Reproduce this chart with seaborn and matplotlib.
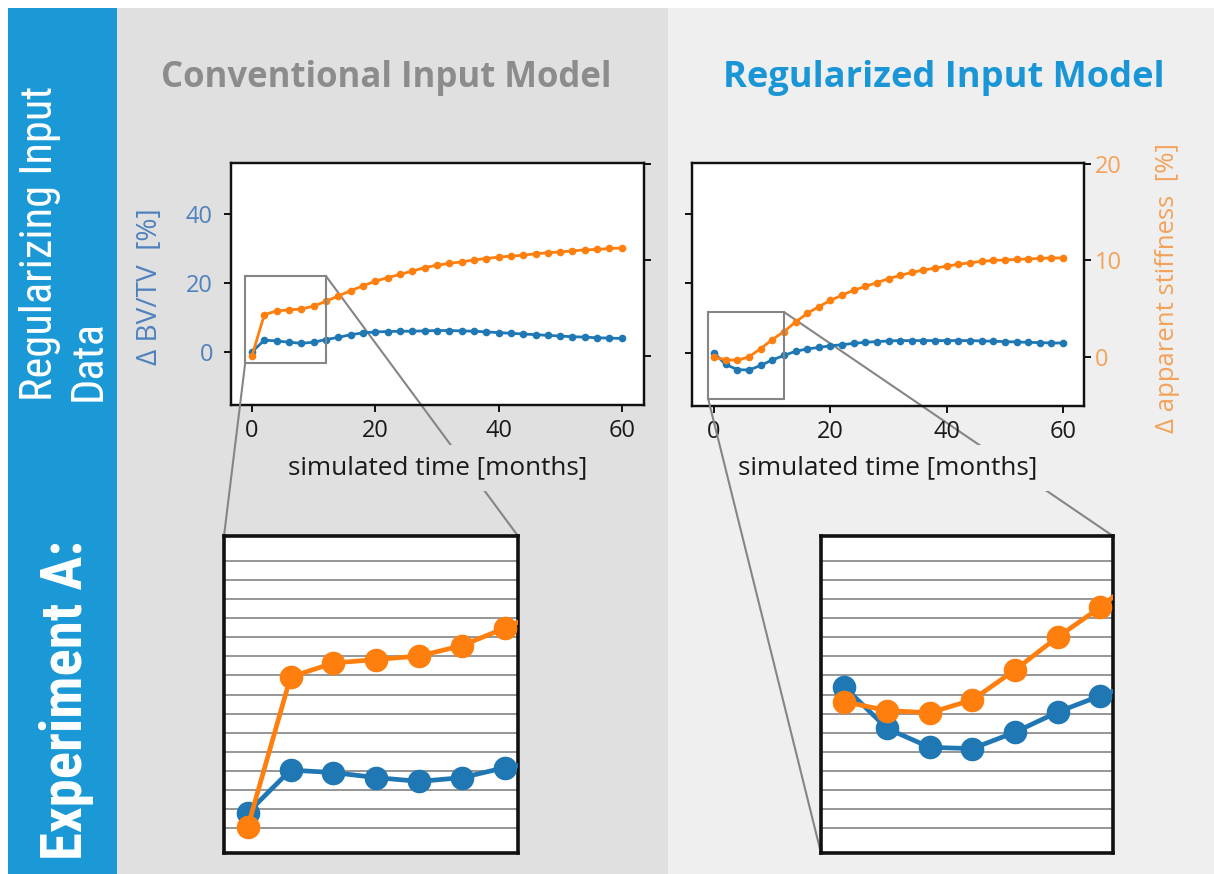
import matplotlib
matplotlib.use("Agg")
import matplotlib.pyplot as plt
import seaborn as sns
from matplotlib.patches import Rectangle, ConnectionPatch
from matplotlib import font_manager

# ---------------- data ----------------
months = list(range(0, 61, 2))
conv_bvtv = [0.0, 3.4, 3.2, 2.8, 2.5, 2.8, 3.6, 4.2, 5.0, 5.5, 5.8, 5.9, 6.0, 6.0, 6.1, 6.2,
             6.2, 6.1, 6.0, 5.8, 5.6, 5.4, 5.2, 5.0, 4.8, 4.6, 4.4, 4.3, 4.1, 4.0, 3.9]
conv_stiff = [0.0, 4.3, 4.7, 4.8, 4.9, 5.2, 5.7, 6.25, 6.8, 7.3, 7.8, 8.15, 8.5, 8.85, 9.2, 9.45,
              9.65, 9.8, 10.0, 10.15, 10.3, 10.4, 10.5, 10.65, 10.75, 10.85, 10.95, 11.05, 11.1, 11.2, 11.25]
reg_bvtv = [-0.1, -3.4, -4.9, -5.0, -3.7, -2.1, -0.8, 0.4, 1.1, 1.5, 2.0, 2.3, 2.7, 3.0, 3.2, 3.4,
            3.5, 3.5, 3.5, 3.5, 3.5, 3.5, 3.5, 3.4, 3.3, 3.2, 3.1, 3.0, 2.9, 2.8, 2.8]
reg_stiff = [-0.05, -0.3, -0.36, 0.0, 0.85, 1.78, 2.62, 3.6, 4.5, 5.2, 5.85, 6.4, 6.9, 7.3, 7.7, 8.1,
             8.45, 8.75, 9.0, 9.2, 9.4, 9.6, 9.75, 9.9, 10.0, 10.05, 10.1, 10.15, 10.2, 10.25, 10.25]
x_ticks = [0, 20, 40, 60]
left_ticks = [0, 20, 40]
right_ticks = [0, 10, 20]
titles = ["Conventional Input Model", "Regularized Input Model"]
row_label = "Regularizing Input\nData"
exp_label = "Experiment A:"
xlabel_text = "simulated time [months]"
ylabel_left = "Δ BV/TV  [%]"
ylabel_right = "Δ apparent stiffness  [%]"

# ---------------- style ----------------
sns.set_theme(style="ticks")
plt.rcParams["font.family"] = ["Open Sans", "DejaVu Sans"]

BLUE = "#1f77b4"
ORANGE = "#ff7f0e"
BAND = "#1b98d6"
PANEL_L = "#e0e0e0"
PANEL_R = "#efefef"
GREY = "#858585"
LBL_BLUE = "#4f81bd"
LBL_ORANGE = "#f4a25a"

W, H = 1214, 874
fig = plt.figure(figsize=(W / 100, H / 100), dpi=100)
renderer = fig.canvas.get_renderer()


def box(x0, y0, x1, y1):
    return [x0 / W, 1 - y1 / H, (x1 - x0) / W, (y1 - y0) / H]


def fit(t, target, along="w"):
    for _ in range(3):
        bb = t.get_window_extent(renderer)
        cur = bb.width if along == "w" else bb.height
        if cur > 0:
            t.set_fontsize(t.get_fontsize() * target / cur)


def condensed_props():
    tl = font_manager.fontManager.ttflist
    names = {f.name for f in tl}
    for cand in ["Liberation Sans Narrow", "Roboto Condensed", "Open Sans Condensed", "DejaVu Sans Condensed"]:
        if cand in names:
            return dict(family=[cand, "DejaVu Sans"])
    for fam in ["Open Sans", "Roboto", "DejaVu Sans", "Noto Sans"]:
        if any(f.name == fam and "condensed" in str(f.stretch) for f in tl):
            return dict(family=[fam, "DejaVu Sans"], fontstretch="condensed")
    return dict(family=["Open Sans", "DejaVu Sans"])


# ---------------- background panels ----------------
for (x0, y0, x1, y1), c in [((117, 8, 668, 874), PANEL_L), ((668, 8, 1214, 874), PANEL_R),
                            ((8, 8, 117, 874), BAND)]:
    p = box(x0, y0, x1, y1)
    fig.add_artist(Rectangle((p[0], p[1]), p[2], p[3], transform=fig.transFigure,
                             facecolor=c, edgecolor="none", zorder=-10))

cprops = condensed_props()
t_row = fig.text(64 / W, 1 - 243 / H, row_label, rotation=90, ha="center", va="center",
                 multialignment="left", color="white", fontsize=24, **cprops)
fit(t_row, 315, "h")
t_exp = fig.text(67 / W, 1 - 700 / H, exp_label, rotation=90, ha="center", va="center",
                 color="white", fontsize=30, fontweight="bold", **cprops)
fit(t_exp, 320, "h")

t1 = fig.text(386 / W, 1 - 78 / H, titles[0], ha="center", va="center", fontsize=22,
              fontweight="bold", color="#8c8c8c")
fit(t1, 452)
t2 = fig.text(944 / W, 1 - 78 / H, titles[1], ha="center", va="center", fontsize=22,
              fontweight="bold", color="#1a96d6")
fit(t2, 442)

LEFT_LIM = (-15.4, 54.8)
RIGHT_LIM = (-5.1, 20.1)

panels = [
    dict(ax=(231, 163, 644, 405), ins=(224, 536, 518, 853), bv=conv_bvtv, st=conv_stiff,
         xlim=(-3.4, 63.6), rect=(-1.1, -0.73, 12.0, 8.33), ins_left=(-3.19, 22.0),
         ins_right=(-0.73, 8.33), left_labels=True, panel=PANEL_L, lowcorner=(0, 1)),
    dict(ax=(692, 163, 1084, 406), ins=(821, 536, 1113, 853), bv=reg_bvtv, st=reg_stiff,
         xlim=(-3.8, 63.6), rect=(-1.03, -4.33, 12.03, 4.64), ins_left=(-13.3, 11.9),
         ins_right=(-4.33, 4.64), left_labels=False, panel=PANEL_R, lowcorner=(0, 0)),
]

for P in panels:
    x0, y0, x1, y1 = P["ax"]
    ax = fig.add_axes(box(x0, y0, x1, y1))
    ax.set_zorder(1)
    ax.patch.set_visible(False)
    fig.add_artist(Rectangle((0, 0), 1, 1, transform=ax.transAxes, facecolor="white",
                             edgecolor="none", zorder=0.2))
    ax2 = ax.twinx()
    ax2.set_zorder(1.1)
    ax2.patch.set_visible(False)

    sns.lineplot(x=months, y=P["bv"], ax=ax, color=BLUE, marker="o", markersize=5.5,
                 markeredgewidth=0, linewidth=2.0)
    sns.lineplot(x=months, y=P["st"], ax=ax2, color=ORANGE, marker="o", markersize=5.5,
                 markeredgewidth=0, linewidth=2.0)
    ax.set_xlim(*P["xlim"])
    ax.set_ylim(*LEFT_LIM)
    ax2.set_ylim(*RIGHT_LIM)
    ax.set_xticks(x_ticks)
    ax.set_yticks(left_ticks)
    ax2.set_yticks(right_ticks)
    for a in (ax, ax2):
        for s in a.spines.values():
            s.set_linewidth(1.6)
            s.set_color("#111111")
        a.grid(False)
    ax.tick_params(axis="x", bottom=True, direction="out", length=5, width=1.4,
                   labelsize=17, labelcolor="#1a1a1a", pad=5, color="#111111")
    ax.tick_params(axis="y", left=True, direction="out", length=5, width=1.4,
                   labelsize=17, labelcolor=LBL_BLUE, pad=8, color="#111111",
                   labelleft=P["left_labels"])
    ax2.tick_params(axis="y", right=True, direction="out", length=5, width=1.4,
                    labelsize=17, labelcolor=LBL_ORANGE, pad=3, color="#111111",
                    labelright=not P["left_labels"])
    ax.set_xlabel(xlabel_text, fontsize=16.5, color="#1a1a1a",
                  bbox=dict(facecolor=P["panel"], edgecolor="none", pad=7))
    fit(ax.xaxis.label, 300)
    ax.xaxis.label.set_va("center")
    ax.xaxis.set_label_coords(0.5, -(468 - y1) / (y1 - y0))
    ax2.set_xlabel("")
    if P["left_labels"]:
        ax.set_ylabel(ylabel_left, fontsize=14, color=LBL_BLUE)
        fit(ax.yaxis.label, 157, "h")
        ax.yaxis.label.set_va("center")
        ax.yaxis.set_label_coords((150 - x0) / (x1 - x0), (y1 - 287) / (y1 - y0))
        ax2.set_ylabel("")
    else:
        ax.set_ylabel("")
        ax2.set_ylabel(ylabel_right, fontsize=15, color=LBL_ORANGE)
        fit(ax2.yaxis.label, 290, "h")
        ax2.yaxis.label.set_va("center")
        ax2.yaxis.set_label_coords((1167 - x0) / (x1 - x0), (y1 - 288) / (y1 - y0))

    rx0, ry0, rx1, ry1 = P["rect"]
    ax2.add_patch(Rectangle((rx0, ry0), rx1 - rx0, ry1 - ry0, fill=False, edgecolor=GREY,
                            linewidth=1.5, zorder=5))

    # inset
    ix0, iy0, ix1, iy1 = P["ins"]
    g = fig.add_axes(box(ix0, iy0, ix1, iy1))
    g.set_zorder(2)
    g.set_facecolor("white")
    g.set_xlim(0, 1)
    g.set_ylim(-0.3, 16.3)
    g.set_xticks([])
    g.set_yticks(list(range(1, 16)))
    g.tick_params(left=False, bottom=False, labelleft=False, labelbottom=False)
    g.yaxis.grid(True, color="#8e8e8e", linewidth=1.3)
    for s in g.spines.values():
        s.set_linewidth(2.6)
        s.set_color("#111111")

    d = fig.add_axes(box(ix0, iy0, ix1, iy1))
    d.set_zorder(2.1)
    d.patch.set_visible(False)
    d2 = d.twinx()
    d2.set_zorder(2.2)
    d2.patch.set_visible(False)
    sns.lineplot(x=months, y=P["bv"], ax=d, color=BLUE, marker="o", markersize=17,
                 markeredgewidth=0, linewidth=3.4)
    sns.lineplot(x=months, y=P["st"], ax=d2, color=ORANGE, marker="o", markersize=17,
                 markeredgewidth=0, linewidth=3.4)
    d.set_xlim(-1.1, 12.6)
    d.set_ylim(*P["ins_left"])
    d2.set_ylim(*P["ins_right"])
    d.axis("off")
    d2.axis("off")

    # connectors
    c1 = ConnectionPatch(xyA=(rx0, ry0), coordsA=ax2.transData, xyB=P["lowcorner"],
                         coordsB=g.transAxes, color=GREY, linewidth=1.5, zorder=1.5)
    c2 = ConnectionPatch(xyA=(rx1, ry1), coordsA=ax2.transData, xyB=(1, 1),
                         coordsB=g.transAxes, color=GREY, linewidth=1.5, zorder=0.5)
    fig.add_artist(c1)
    fig.add_artist(c2)

fig.savefig("out.png", dpi=100)
